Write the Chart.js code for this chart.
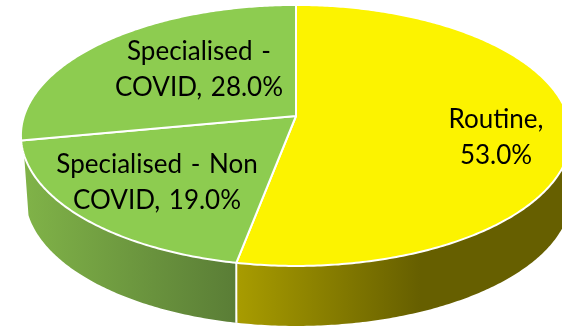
<!DOCTYPE html>
<html lang="en">
<head>
  <meta charset="UTF-8" />
  <title>Routine and specialised share</title>
  <script src="https://cdn.jsdelivr.net/npm/chart.js"></script>
  <style>
    body { margin: 0; background: #fff; overflow: hidden; }
    canvas { display: block; }
  </style>
</head>
<body>
  <canvas id="pie" width="562" height="326"></canvas>

  <script>
    const categories = ['Routine', 'Specialised - Non COVID', 'Specialised - COVID'];
    const shares = [53, 19, 28];
    const firstLines = ['Routine,', 'Specialised - Non', 'Specialised -'];
    const topColors = ['#FCF300', '#8DCC50', '#8DCC50'];
    const wallColors = [
      [[237, '#A89C00'], [420, '#665F00'], [570, '#665F00']],
      [[22, '#80B348'], [237, '#5A7D36']],
      null
    ];
    const labelCentres = [[496, 120], [157, 165], [199, 52]];

    // perspective of the tilted disc: apex, half sizes, vanishing factor, wall height
    const view = { x: 296, y: 116, a: 272, b: 127.6, q: 0.149, depth: 60, wallTop: 155, taper: 0.016 };

    function project(angle) {
      const u = Math.cos(angle), v = Math.sin(angle);
      const d = 1 - view.q * v;
      return [view.x + view.a * u / d, view.y + view.b * v / d];
    }

    function rimPoints(start, end) {
      const steps = Math.max(2, Math.ceil((end - start) * 90));
      const pts = [];
      for (let i = 0; i <= steps; i++) pts.push(start + (end - start) * i / steps);
      return pts;
    }

    // lower edge of the wall, drawn in a little on the left side
    function wallFoot(p) {
      const x = p[0] < view.x ? p[0] + (view.x - p[0]) * view.taper : p[0];
      return [x, p[1] + view.depth];
    }

    const tiltedPie = {
      id: 'tiltedPie',
      beforeDatasetsDraw(chart) {
        const ctx = chart.ctx;
        const arcs = chart.getDatasetMeta(0).data;
        ctx.save();
        ctx.lineJoin = 'round';
        ctx.strokeStyle = '#fff';
        ctx.lineWidth = 2;

        // side wall, only on the front of the disc
        arcs.forEach((arc, i) => {
          if (!wallColors[i]) return;
          const vis = rimPoints(arc.startAngle, arc.endAngle)
            .filter(t => project(t + 0.001)[0] < project(t)[0])
            .map(project)
            .filter(p => p[1] > view.wallTop);
          if (vis.length < 2) return;
          const xs = vis.map(p => p[0]);
          const x0 = Math.min(...xs), x1 = Math.max(...xs);
          const g = ctx.createLinearGradient(x0, 0, x1, 0);
          wallColors[i].forEach(s => g.addColorStop(Math.min(1, Math.max(0, (s[0] - x0) / (x1 - x0))), s[1]));
          ctx.beginPath();
          vis.forEach((p, k) => k ? ctx.lineTo(p[0], p[1]) : ctx.moveTo(p[0], p[1]));
          vis.slice().reverse().map(wallFoot).forEach(p => ctx.lineTo(p[0], p[1]));
          ctx.closePath();
          ctx.fillStyle = g;
          ctx.fill();
        });

        // divider on the wall between the slices
        const seam = project(arcs[0].endAngle);
        ctx.beginPath();
        ctx.moveTo(seam[0], seam[1]);
        ctx.lineTo(seam[0], seam[1] + view.depth);
        ctx.stroke();

        // top face
        arcs.forEach((arc, i) => {
          ctx.beginPath();
          ctx.moveTo(view.x, view.y);
          rimPoints(arc.startAngle, arc.endAngle).map(project).forEach(p => ctx.lineTo(p[0], p[1]));
          ctx.closePath();
          ctx.fillStyle = topColors[i];
          ctx.fill();
          ctx.stroke();
        });
        ctx.restore();
        return false;
      },
      afterDraw(chart) {
        const ctx = chart.ctx;
        ctx.save();
        ctx.font = '26px Lato';
        ctx.wordSpacing = '2px';
        ctx.fillStyle = '#000';
        ctx.textAlign = 'center';
        ctx.textBaseline = 'middle';
        categories.forEach((cat, i) => {
          const text = cat + ', ' + shares[i].toFixed(1) + '%';
          const first = firstLines[i];
          const second = text.slice(first.length).trim();
          ctx.fillText(first, labelCentres[i][0], labelCentres[i][1]);
          ctx.fillText(second, labelCentres[i][0], labelCentres[i][1] + 36);
        });
        ctx.restore();
      }
    };

    new Chart(document.getElementById('pie'), {
      type: 'pie',
      data: {
        labels: categories,
        datasets: [{ data: shares, backgroundColor: topColors, borderColor: '#fff', borderWidth: 2 }]
      },
      options: {
        responsive: false,
        animation: false,
        devicePixelRatio: 1,
        plugins: { legend: { display: false }, tooltip: { enabled: false } }
      },
      plugins: [tiltedPie]
    });
  </script>
</body>
</html>
